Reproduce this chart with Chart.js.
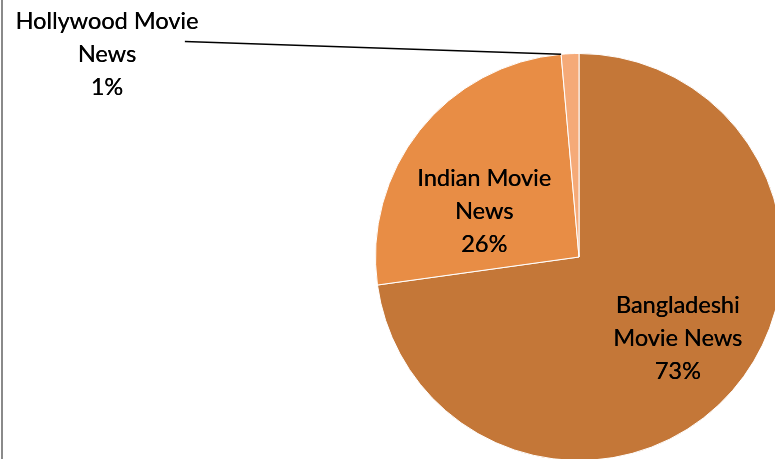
<!DOCTYPE html>
<html>
<head>
<meta charset="utf-8">
<script src="https://cdn.jsdelivr.net/npm/chart.js@4.4.0/dist/chart.umd.min.js"></script>
<style>
  html, body { margin: 0; padding: 0; background: #fff; overflow: hidden; }
  #wrap { position: relative; width: 775px; height: 459px; overflow: hidden; }
  #frame { position: absolute; left: 1px; top: 0; width: 2px; height: 459px; background: #8a8a8a; }
  #pie { position: absolute; left: 0; top: 0; }
</style>
</head>
<body>
<div id="wrap">
  <canvas id="pie" width="800" height="480"></canvas>
  <div id="frame"></div>
</div>
<script>
// datos del gráfico
const categorias = ['Bangladeshi Movie News', 'Indian Movie News', 'Hollywood Movie News'];
const valores    = [72.8, 25.8, 1.4];
const colores    = ['#c47738', '#e88d45', '#f5aa78'];

// líneas del rótulo de cada porción
const lineasRotulo = [
    ['Bangladeshi', 'Movie News'],
    ['Indian Movie', 'News'],
    ['Hollywood Movie', 'News']
];

// posición del rótulo, en radios desde el centro
const posRotulo = [[0.485, 0.40], [-0.466, -0.225], [-2.32, -0.995]];

const total = valores.reduce((a, b) => a + b, 0);
const FUENTE = '23.5px Lato, "Liberation Sans", sans-serif';
const INTERLINEA = 33;

// rótulos + línea guía al estilo Excel
const rotulosPie = {
    id: 'rotulosPie',
    afterDraw(chart) {
        const ctx = chart.ctx;
        const arcs = chart.getDatasetMeta(0).data;
        ctx.save();
        ctx.font = FUENTE;
        ctx.fillStyle = '#000';
        ctx.textAlign = 'center';
        ctx.textBaseline = 'middle';
        arcs.forEach((arc, i) => {
            const r = arc.outerRadius;
            const cx = arc.x + posRotulo[i][0] * r;
            const cy = arc.y + posRotulo[i][1] * r;
            const pct = Math.round(valores[i] / total * 100) + '%';
            const lineas = [...lineasRotulo[i], pct];
            const y0 = cy - (lineas.length - 1) / 2 * INTERLINEA;
            lineas.forEach((t, k) => {
                ctx.fillText(t, cx, y0 + k * INTERLINEA);
                ctx.fillText(t, cx + 0.3, y0 + k * INTERLINEA); // algo más de cuerpo
            });

            // porción chica fuera del pastel: línea guía
            if (i === 2) {
                const ang = arc.startAngle;
                ctx.strokeStyle = '#000';
                ctx.lineWidth = 1.5;
                ctx.beginPath();
                ctx.moveTo(cx + 78, cy - 13);
                ctx.lineTo(arc.x + Math.cos(ang) * r, arc.y + Math.sin(ang) * r);
                ctx.stroke();
            }
        });
        ctx.restore();
    }
};

new Chart(document.getElementById('pie').getContext('2d'), {
    type: 'pie',
    data: {
        labels: categorias,
        datasets: [{
            data: valores,
            backgroundColor: colores,
            borderColor: '#ffffff',
            borderWidth: 1,
            hoverOffset: 0,
            offset: 0
        }]
    },
    options: {
        responsive: false,
        animation: false,
        events: [],
        layout: { padding: { left: 375, top: 53, right: 17, bottom: 19 } },
        plugins: {
            legend: { display: false },
            tooltip: { enabled: false }
        }
    },
    plugins: [rotulosPie]
});
</script>
</body>
</html>
